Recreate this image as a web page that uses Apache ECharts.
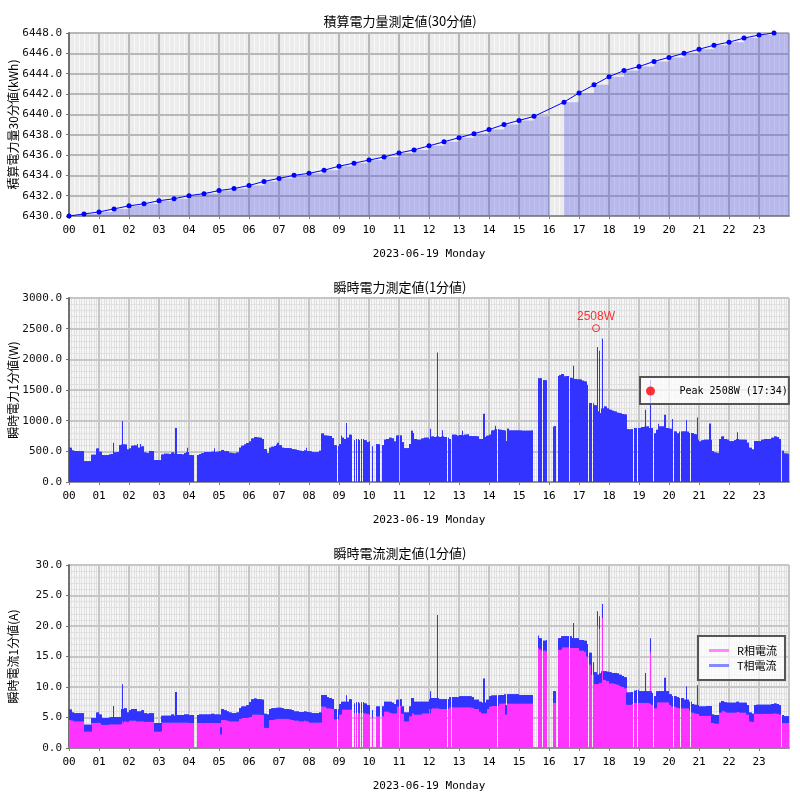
<!DOCTYPE html>
<html><head><meta charset="utf-8">
<script src="https://cdn.jsdelivr.net/npm/echarts@6/dist/echarts.min.js"></script>
<style>html,body{margin:0;padding:0;background:#fff}#c{width:800px;height:800px}</style>
</head><body><div id="c"></div>
<script>
// ---------- labels ----------
const hourLabels = ['00','01','02','03','04','05','06','07','08','09','10','11','12','13','14','15','16','17','18','19','20','21','22','23'];
const dateLabel = '2023-06-19 Monday';
const titles = ['積算電力量測定値(30分値)', '瞬時電力測定値(1分値)', '瞬時電流測定値(1分値)'];
const yNames = ['積算電力量30分値(kWh)', '瞬時電力1分値(W)', '瞬時電流1分値(A)'];
const seriesNames = ['R相電流', 'T相電流'];

// ---------- panel 1 : 30-minute cumulative energy (kWh), minute of day ----------
const energyInterval = 30;
const energyMinutes = [0,30,60,90,120,150,180,210,240,270,300,330,360,390,420,450,480,510,540,570,600,630,660,690,720,750,780,810,840,870,900,930,960,990,1020,1050,1080,1110,1140,1170,1200,1230,1260,1290,1320,1350,1380,1410];
const energyKWh = [6430.0,6430.2,6430.4,6430.7,6431.0,6431.2,6431.5,6431.7,6432.0,6432.2,6432.5,6432.7,
  6433.0,6433.4,6433.7,6434.0,6434.2,6434.5,6434.9,6435.2,6435.5,6435.8,6436.2,6436.5,
  6436.9,6437.3,6437.7,6438.1,6438.5,6439.0,6439.4,6439.8,null,6441.2,6442.1,6442.9,
  6443.7,6444.3,6444.7,6445.2,6445.6,6446.0,6446.4,6446.8,6447.1,6447.5,6447.8,6448.0];

// ---------- panel 2 : power (W), 5-minute readings, one hour per row ----------
const binMinutes = 5;
const powerW = [
  560,515,505,505,500,500,340,340,340,445,445,545,
  495,440,435,440,450,455,480,490,600,610,610,530,
  545,590,595,560,560,580,480,470,505,500,360,360,
  355,450,460,460,455,480,460,455,455,450,470,490,
  440,435,435,440,455,470,490,490,490,495,490,495,
  500,520,500,500,475,470,465,480,560,590,610,635,
  660,710,735,725,720,700,540,470,560,575,585,610,
  600,560,555,555,550,540,530,520,510,505,515,505,
  500,490,485,485,510,790,760,755,750,715,600,585,
  620,720,700,720,770,700,680,700,680,700,680,650,
  660,580,610,615,610,600,690,700,720,710,660,760,
  760,650,550,550,620,800,700,690,690,710,720,720,
  700,740,735,740,735,740,735,720,700,770,770,755,
  765,760,770,775,750,745,745,740,700,700,735,755,
  770,840,850,860,850,845,840,870,840,840,840,840,
  840,835,835,835,835,840,840,1690,1690,1660,1660,1630,
  900,900,910,1730,1740,1760,1720,1730,1700,1690,1680,1670,
  1670,1650,1640,1580,1290,1280,1250,1150,1120,1200,1230,1200,
  1180,1160,1150,1130,1120,1110,1100,860,855,860,880,880,
  880,895,900,905,880,880,790,850,905,905,880,880,
  870,830,825,790,820,825,825,820,800,800,780,690,
  660,680,690,690,690,500,480,470,700,740,700,690,
  665,665,680,700,690,690,690,640,560,530,670,665,
  665,690,700,700,700,720,740,730,700,510,465,460
];
// short peaks/dips: [fromMinute, toMinute, W]
const powerSpikes = [[89,89,640],[106,107,990],[137,137,620],[142,142,620],[213,214,880],[236,236,560],[291,291,550],[303,304,310],[417,418,640],[474,474,560],[545,545,760],[554,555,960],[684,686,837],[723,723,870],[736,736,2110],[737,737,2005],[746,746,842],[786,786,837],[829,830,1114],[853,853,918],[873,875,663],[1009,1009,1897],[1057,1057,2200],[1061,1061,2140],[1066,1067,2337],[1153,1153,1180],[1163,1163,1658],[1179,1179,951],[1191,1192,1098],[1207,1207,1027],[1234,1234,1005],[1257,1257,1050],[1281,1282,955],[1337,1337,810]];
// missing minutes: [fromMinute, toMinute]
const gaps = [[250,255],[536,537],[566,569],[572,573],[576,577],[582,583],[586,587],[602,605],[608,613],[622,625],[660,661],[756,757],[764,765],[856,857],[928,937],[946,947],[956,967],[974,977],[1000,1001],[1038,1039],[1046,1047],[1128,1129],[1136,1137],[1168,1169],[1208,1209],[1222,1223],[1242,1243],[1424,1425]];
const peakPoint = [1054, 2508];
const peakTime = '17:34';

// ---------- panel 3 : currents (A), 5-minute readings ----------
const currentR = [
  4.6,4.5,4.4,4.4,4.4,4.4,2.7,2.7,2.7,4.1,4.1,4.2,
  4.1,3.8,3.8,3.8,3.9,3.9,3.9,3.9,3.9,4.2,4.4,4.3,
  4.5,4.5,4.5,4.4,4.4,4.4,4.3,4.3,4.3,4.3,2.7,2.7,
  2.7,4.2,4.2,4.2,4.2,4.2,4.2,4.2,4.2,4.2,4.2,4.2,
  4.1,4.1,4.1,4.1,4.1,4.1,4.1,4.1,4.1,4.1,4.1,4.1,
  4.1,4.6,4.6,4.5,4.4,4.4,4.4,4.4,4.8,4.9,4.9,5.0,
  5.1,5.5,5.5,5.5,5.5,5.4,3.3,3.3,4.6,4.6,4.7,4.8,
  4.8,4.8,4.8,4.8,4.7,4.6,4.5,4.5,4.4,4.4,4.5,4.4,
  4.2,4.2,4.2,4.2,4.2,6.8,6.8,6.5,6.5,6.4,4.7,4.7,
  5.5,6.3,6.3,6.3,6.3,6.3,5.7,5.8,5.7,5.8,5.7,5.6,
  5.5,5.0,5.2,5.2,5.2,5.2,6.0,6.0,5.8,5.7,5.7,6.8,
  6.9,5.6,4.4,4.4,5.2,5.7,5.5,5.5,5.5,5.7,5.7,5.7,
  6.4,6.5,6.5,6.5,6.4,6.4,6.4,6.4,6.7,6.7,6.7,6.7,
  6.7,6.7,6.7,6.7,6.7,6.6,6.4,6.4,6.0,5.7,5.7,6.4,
  6.8,6.9,6.9,6.9,7.3,7.3,7.3,7.3,7.3,7.3,7.3,7.3,
  7.3,7.3,7.3,7.3,7.3,7.3,7.3,16.4,16.2,16.0,16.0,15.8,
  7.4,7.4,7.4,16.1,16.1,16.5,16.5,16.5,16.4,16.4,16.4,16.4,
  16.0,16.0,15.8,15.0,13.7,12.0,10.5,10.5,10.7,11.2,11.2,11.0,
  10.6,10.6,10.5,10.4,10.2,10.0,9.8,7.1,7.1,7.2,7.4,7.4,
  7.4,7.4,7.4,7.4,7.3,7.1,6.5,7.5,7.5,7.5,7.5,7.5,
  7.1,6.8,6.8,6.6,6.5,6.5,6.5,6.5,6.2,5.8,5.7,5.6,
  5.3,5.3,5.3,5.3,5.3,4.1,4.0,4.0,5.8,6.1,6.0,5.8,
  5.8,5.8,5.8,5.9,5.8,5.8,5.8,5.5,4.4,4.3,5.6,5.6,
  5.6,5.6,5.6,5.6,5.6,5.6,5.7,5.6,5.5,4.1,4.1,4.1
];
const currentT = [
  1.7,1.3,1.3,1.3,1.3,1.3,1.1,1.1,1.1,0.8,0.8,1.6,
  1.4,1.1,1.1,1.1,1.1,1.2,1.2,1.2,1.2,2.2,2.1,1.5,
  1.7,1.9,1.9,1.6,1.6,1.8,1.4,1.3,1.4,1.4,1.4,1.4,
  1.4,1.1,1.1,1.1,1.1,1.3,1.1,1.2,1.2,1.2,1.3,1.3,
  1.3,1.3,1.3,1.3,1.4,1.4,1.4,1.4,1.4,1.5,1.4,1.4,
  1.4,1.8,1.6,1.5,1.4,1.3,1.3,1.4,1.7,1.9,1.9,2.0,
  2.4,2.5,2.6,2.5,2.5,2.5,2.3,2.2,1.8,1.9,1.8,1.8,
  1.8,1.7,1.6,1.6,1.6,1.6,1.5,1.5,1.5,1.5,1.5,1.5,
  1.6,1.5,1.5,1.5,1.6,1.9,1.9,1.8,1.7,1.6,1.7,1.6,
  1.7,1.3,1.3,1.3,1.7,1.3,1.6,1.7,1.6,1.7,1.6,1.4,
  1.5,1.2,1.6,1.6,1.6,1.6,1.6,1.6,1.8,1.7,1.5,1.1,
  1.1,1.2,1.4,1.4,1.6,2.5,2.1,2.1,2.1,1.9,1.9,1.9,
  1.6,1.7,1.7,1.7,1.6,1.6,1.6,1.6,1.6,1.6,1.6,1.6,
  1.8,1.8,1.8,1.8,1.8,1.7,1.5,1.5,1.6,1.7,1.7,1.5,
  1.7,1.7,1.7,1.7,1.4,1.4,1.5,1.5,1.5,1.5,1.5,1.5,
  1.4,1.4,1.4,1.4,1.4,1.4,1.4,2.0,1.8,1.6,1.6,1.9,
  1.9,1.9,1.9,1.9,1.9,1.8,1.8,1.8,1.9,1.6,1.6,1.6,
  1.7,1.7,1.8,2.0,1.9,2.0,1.9,1.5,1.5,1.4,1.4,1.5,
  1.8,1.7,1.8,1.8,1.8,1.8,1.8,2.0,2.0,2.0,2.0,2.1,
  1.9,1.9,1.9,1.9,2.0,1.9,2.0,1.8,1.8,1.8,1.8,1.8,
  1.7,1.7,1.7,1.7,1.7,1.7,1.4,1.4,1.4,1.4,1.4,1.4,
  1.5,1.5,1.5,1.6,1.6,1.4,1.4,1.4,1.6,1.6,1.5,1.6,
  1.6,1.6,1.6,1.7,1.6,1.6,1.6,1.5,1.4,1.3,1.4,1.5,
  1.5,1.5,1.5,1.5,1.5,1.6,1.6,1.6,1.5,1.3,1.1,1.1
];
// [fromMinute, toMinute, R, T]
const currentSpikes = [[89,89,3.9,3.0],[106,107,4.4,6.0],[213,214,4.2,5.0],[303,304,2.2,1.2],[554,555,6.3,2.3],[723,723,5.7,3.6],[736,736,6.5,15.3],[737,737,6.5,14.5],[829,830,5.7,5.7],[873,875,5.5,1.5],[1009,1009,16.5,4.0],[1057,1057,19.9,2.5],[1061,1061,19.5,2.1],[1066,1067,21.3,2.3],[1153,1153,7.4,4.9],[1163,1163,15.6,2.4],[1191,1192,7.5,4.0],[1234,1234,6.5,3.6],[1257,1257,5.6,4.7]];

// ---------- build minute-level data (null = missing) ----------
const DAY = 1440;
function minuteValues(bins, spikes, col) {
  const out = [];
  for (let m = 0; m < DAY; m++) {
    let v = bins[Math.floor(m / binMinutes)];
    for (const s of spikes) if (m >= s[0] && m <= s[1]) v = s[col];
    for (const g of gaps) if (m >= g[0] && m <= g[1]) v = null;
    out.push(v);
  }
  return out;
}
const powerMin = minuteValues(powerW, powerSpikes, 2);
const rMin = minuteValues(currentR, currentSpikes, 2);
const tMin = minuteValues(currentT, currentSpikes, 3);
const powerData = powerMin.map((v, m) => [m, v]);
const rData = rMin.map((v, m) => [m, v]);
const tData = tMin.map((v, m) => [m, rMin[m], v]);
const energyPairs = energyMinutes.map((t, i) => [t, energyKWh[i]]).filter(p => p[1] !== null);

// ---------- styling helpers ----------
const MONO = 'DejaVu Sans Mono';
const CJK = 'Noto Sans CJK JP';
const grids = [
  {left: 69, top: 33, width: 720, height: 183},
  {left: 69, top: 298, width: 720, height: 184},
  {left: 69, top: 565, width: 720, height: 183}
];
const yRanges = [[6430, 6448, 2], [0, 3000, 500], [0, 30, 5]];
const majorColors = ['#b8b8b8', '#c6c6c6', '#c6c6c6'];
const minorColors = ['#f9f9f9', '#e0e0e0', '#e0e0e0'];
const xMinorN = [6, 12, 12];
const yMinorN = [0, 5, 5];

function xAxisMain(i) {
  return {
    type: 'value', gridIndex: i, min: 0, max: DAY, interval: 60, z: 2,
    name: dateLabel, nameLocation: 'middle', nameGap: 33, nameMoveOverlap: false,
    nameTextStyle: {fontFamily: MONO, fontSize: 11, color: '#000'},
    axisLine: {show: true, onZero: false, lineStyle: {color: '#909090', width: 2}},
    axisTick: {show: true, length: 3, lineStyle: {color: '#808080'}},
    axisLabel: {margin: 9, fontFamily: MONO, fontSize: 11, color: '#000', showMaxLabel: false,
      formatter: v => (v < DAY ? hourLabels[v / 60] : '')},
    splitLine: {show: true, lineStyle: {color: majorColors[i], width: 2}},
    minorTick: {show: false}, minorSplitLine: {show: false}
  };
}
function xAxisMinor(i) {
  return {
    type: 'value', gridIndex: i, min: 0, max: DAY, interval: 60, z: 1, position: 'top',
    axisLine: {show: false}, axisTick: {show: false}, axisLabel: {show: false}, splitLine: {show: false},
    minorTick: {show: false, splitNumber: xMinorN[i]},
    minorSplitLine: {show: true, lineStyle: {color: minorColors[i], width: 1}}
  };
}
function yAxisMain(i) {
  const r = yRanges[i];
  return {
    type: 'value', gridIndex: i, min: r[0], max: r[1], interval: r[2], z: 2,
    name: yNames[i], nameLocation: 'middle', nameGap: 50, nameRotate: 90, nameMoveOverlap: false,
    nameTextStyle: {fontFamily: CJK, fontSize: 12, color: '#000'},
    axisLine: {show: true, onZero: false, lineStyle: {color: '#707070', width: 2}},
    axisTick: {show: true, length: 3, lineStyle: {color: '#707070'}},
    axisLabel: {margin: 7, fontFamily: MONO, fontSize: 11, color: '#111', formatter: v => v.toFixed(1)},
    splitLine: {show: true, lineStyle: {color: majorColors[i], width: 2}},
    minorTick: {show: false}, minorSplitLine: {show: false}
  };
}
function yAxisMinor(i) {
  const r = yRanges[i];
  return {
    type: 'value', gridIndex: i, min: r[0], max: r[1], interval: r[2], z: 1, position: 'right',
    show: yMinorN[i] > 0,
    axisLine: {show: false}, axisTick: {show: false}, axisLabel: {show: false}, splitLine: {show: false},
    minorTick: {show: false, splitNumber: yMinorN[i] || 5},
    minorSplitLine: {show: yMinorN[i] > 0, lineStyle: {color: minorColors[i], width: 1}}
  };
}
// one-pixel-wide column per minute, located through the axis scale
function minuteRect(api, m, top, bottom, fill) {
  const pTop = api.coord([m, top]);
  const pBot = api.coord([m, bottom]);
  const x = Math.floor(pTop[0] + 1e-6);
  return {type: 'rect', shape: {x: x, y: pTop[1], width: 1, height: pBot[1] - pTop[1]}, style: {fill: fill}};
}
const energyMin = yRanges[0][0];
const peakName = 'Peak ' + peakPoint[1] + 'W (' + peakTime + ')';

const option = {
  animation: false,
  backgroundColor: '#ffffff',
  title: titles.map((t, i) => ({
    text: t, left: 'center', top: [10, 276, 542][i],
    textStyle: {fontFamily: CJK, fontSize: 13, fontWeight: 'normal', color: '#000'}
  })),
  grid: grids.map((g, i) => Object.assign({show: true, z: 0, borderWidth: 0, containLabel: false, outerBoundsMode: 'none',
    backgroundColor: i === 0 ? '#ececec' : '#f6f6f6'}, g)),
  xAxis: [xAxisMain(0), xAxisMain(1), xAxisMain(2), xAxisMinor(0), xAxisMinor(1), xAxisMinor(2)],
  yAxis: [yAxisMain(0), yAxisMain(1), yAxisMain(2), yAxisMinor(0), yAxisMinor(1), yAxisMinor(2)],
  legend: [
    {
      data: [{name: peakName, icon: 'circle', itemStyle: {color: '#ff0000', borderWidth: 0}}],
      left: 640, top: 377, itemWidth: 10, itemHeight: 9, padding: [9, 1, 8, 6], z: 10,
      backgroundColor: 'rgba(255,255,255,0.7)', borderColor: '#555', borderWidth: 2, borderRadius: 0,
      selectedMode: false,
      textStyle: {fontFamily: MONO, fontSize: 10, color: '#000', padding: [0, 0, 0, 19]}
    },
    {
      data: [{name: seriesNames[0], itemStyle: {color: '#ff88ff'}}, {name: seriesNames[1], itemStyle: {color: '#8888ff'}}],
      icon: 'rect', orient: 'vertical', left: 698, top: 636, itemWidth: 20, itemHeight: 3, itemGap: 4, z: 10,
      padding: [9, 8, 9, 11],
      backgroundColor: 'rgba(255,255,255,0.7)', borderColor: '#555', borderWidth: 2, borderRadius: 0,
      selectedMode: false,
      textStyle: {fontFamily: CJK, fontSize: 11, color: '#000', padding: [0, 0, 0, 3]}
    }
  ],
  series: [
    {
      name: 'energyBars', type: 'custom', xAxisIndex: 0, yAxisIndex: 0, silent: true, z: 3,
      data: energyPairs, encode: {x: 0, y: 1},
      renderItem: (params, api) => {
        const t = api.value(0), v = api.value(1);
        const p0 = api.coord([t, v]);
        const p1 = api.coord([t + energyInterval, energyMin]);
        return {type: 'rect', shape: {x: p0[0], y: p0[1], width: p1[0] - p0[0], height: p1[1] - p0[1]},
          style: {fill: 'rgba(80,80,235,0.33)'}};
      }
    },
    {
      name: 'energyLine', type: 'line', xAxisIndex: 0, yAxisIndex: 0, silent: true, z: 4,
      data: energyPairs, symbol: 'circle', symbolSize: 5, showSymbol: true,
      itemStyle: {color: '#0000ff'}, lineStyle: {color: '#0000ff', width: 1}
    },
    {
      name: 'power', type: 'custom', xAxisIndex: 1, yAxisIndex: 1, silent: true, z: 3,
      data: powerData, encode: {x: 0, y: 1},
      renderItem: (params, api) => {
        const v = api.value(1);
        if (isNaN(v) || v === null) return null;
        return minuteRect(api, api.value(0), v, 0, '#3333ff');
      }
    },
    {
      name: peakName, type: 'scatter', xAxisIndex: 1, yAxisIndex: 1, silent: true,
      data: [peakPoint], symbol: 'circle', symbolSize: 7, z: 5,
      itemStyle: {color: 'rgba(0,0,0,0)', borderColor: '#ff0000', borderWidth: 1},
      label: {show: true, position: 'top', distance: 1, color: '#ff0000', fontSize: 12,
        fontFamily: 'Liberation Sans', formatter: p => p.value[1] + 'W'}
    },
    {
      name: seriesNames[0], type: 'custom', xAxisIndex: 2, yAxisIndex: 2, silent: true, z: 3,
      data: rData, encode: {x: 0, y: 1}, itemStyle: {color: '#ff33ff'},
      renderItem: (params, api) => {
        const r = api.value(1);
        if (isNaN(r) || r === null) return null;
        return minuteRect(api, api.value(0), r, 0, '#ff33ff');
      }
    },
    {
      name: seriesNames[1], type: 'custom', xAxisIndex: 2, yAxisIndex: 2, silent: true, z: 3,
      data: tData, encode: {x: 0, y: [1, 2]}, itemStyle: {color: '#3333ff'},
      renderItem: (params, api) => {
        const r = api.value(1), t = api.value(2);
        if (isNaN(r) || isNaN(t) || r === null || t === null) return null;
        return minuteRect(api, api.value(0), r + t, r, '#3333ff');
      }
    }
  ]
};
const chart = echarts.init(document.getElementById('c'), null, {renderer: 'canvas'});
chart.setOption(option);
</script>
</body></html>
